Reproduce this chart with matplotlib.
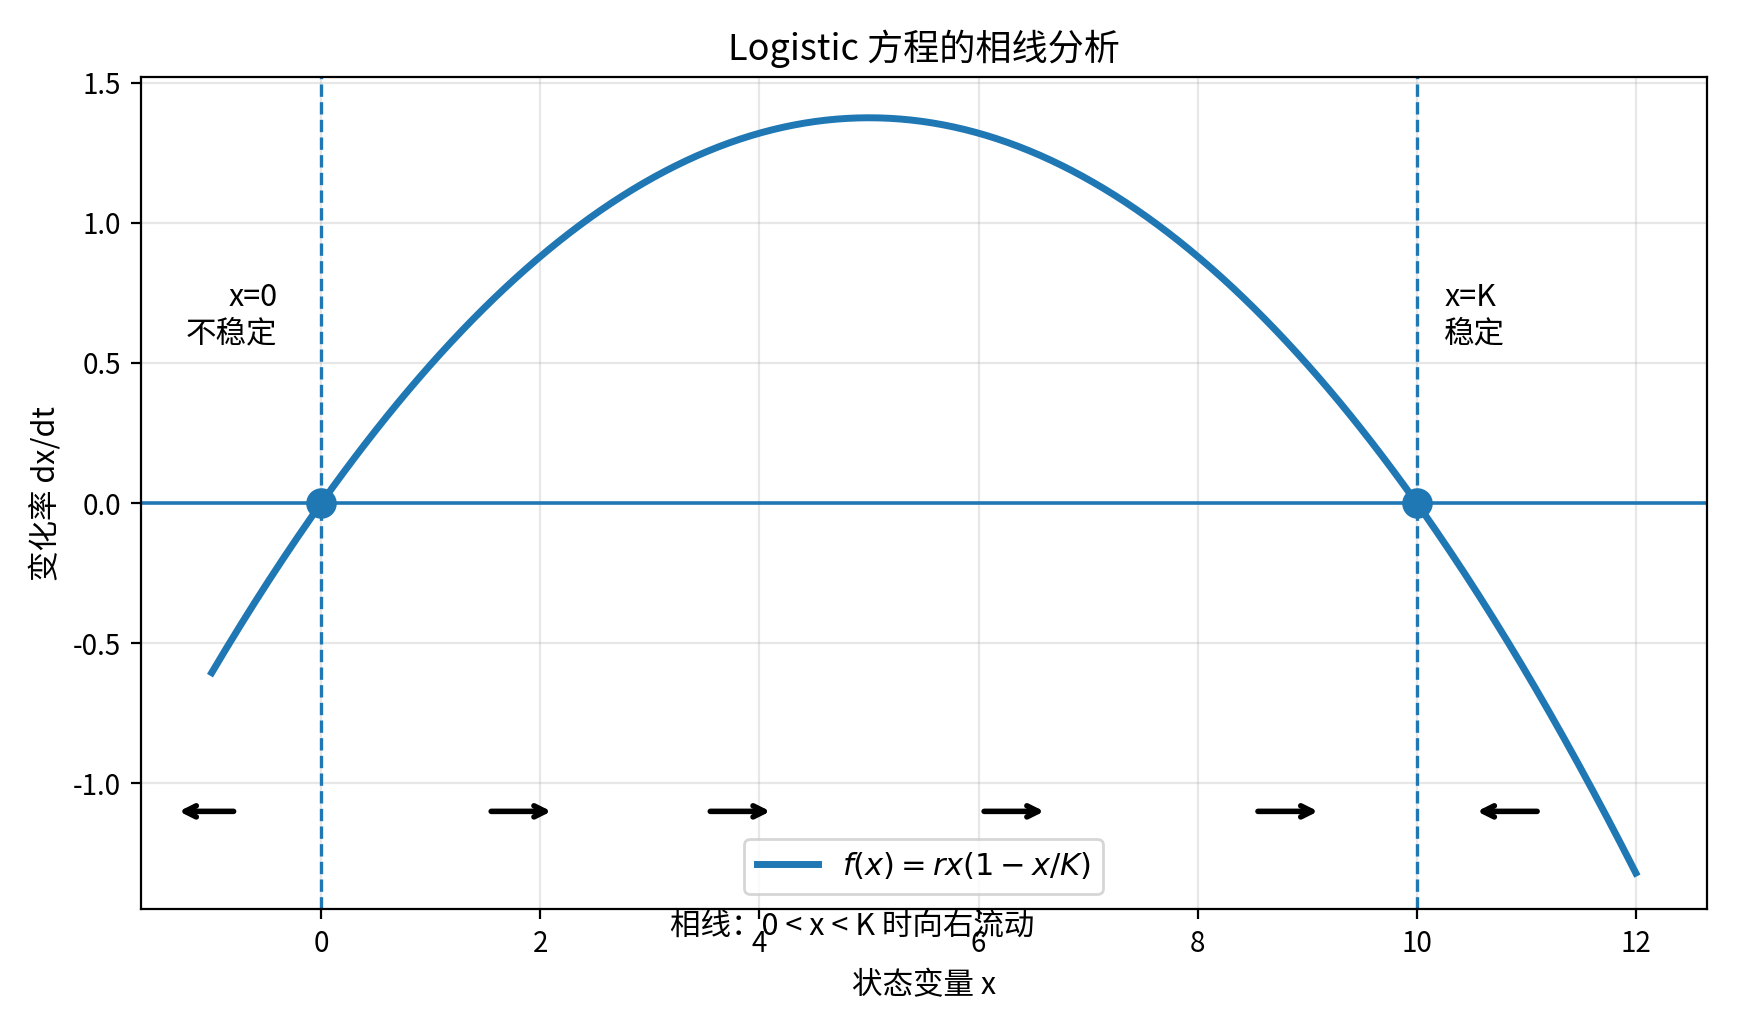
import numpy as np
import matplotlib
matplotlib.use("Agg")
import matplotlib.pyplot as plt

plt.rcParams['font.family'] = ['Noto Sans CJK SC', 'DejaVu Sans']
plt.rcParams['axes.unicode_minus'] = False

r = 0.55
K = 10
x_range = [-1, 12]
equilibria = [0, 10]
arrow_starts = [-0.75, 1.5, 3.5, 6.0, 8.5, 11.15]
arrow_ends = [-1.35, 2.15, 4.15, 6.65, 9.15, 10.5]
arrow_y = -1.1

x = np.linspace(x_range[0], x_range[1], 400)
f = r * x * (1 - x / K)

fig, ax = plt.subplots(figsize=(8.685, 5.155), dpi=200)
ax.plot(x, f, color='#1f77b4', lw=2.5, label=r'$f(x) = rx(1-x/K)$')
ax.axhline(0, color='#1f77b4', lw=1.3)
for e in equilibria:
    ax.axvline(e, color='#1f77b4', ls='--', lw=1.2)
ax.plot(equilibria, [0, 0], 'o', color='#1f77b4', ms=10)
for s, t in zip(arrow_starts, arrow_ends):
    ax.annotate('', xy=(t, arrow_y), xytext=(s, arrow_y),
                arrowprops=dict(arrowstyle='->', color='black', lw=2))
ax.text(-0.4, 0.55, 'x=0\n不稳定', ha='right', va='bottom', fontsize=11)
ax.text(10.25, 0.55, 'x=K\n稳定', ha='left', va='bottom', fontsize=11)
ax.text(4.85, -1.51, '相线：0 < x < K 时向右流动', ha='center', va='center', fontsize=11, clip_on=False)
ax.set_xlim(-1.65, 12.65)
ax.set_ylim(-1.45, 1.52)
ax.grid(alpha=0.3)
ax.set_xlabel('状态变量 x', fontsize=11)
ax.set_ylabel('变化率 dx/dt', fontsize=11)
ax.set_title('Logistic 方程的相线分析', fontsize=13)
ax.legend(loc='lower center', fontsize=11)
fig.tight_layout()
fig.savefig('out.png')
